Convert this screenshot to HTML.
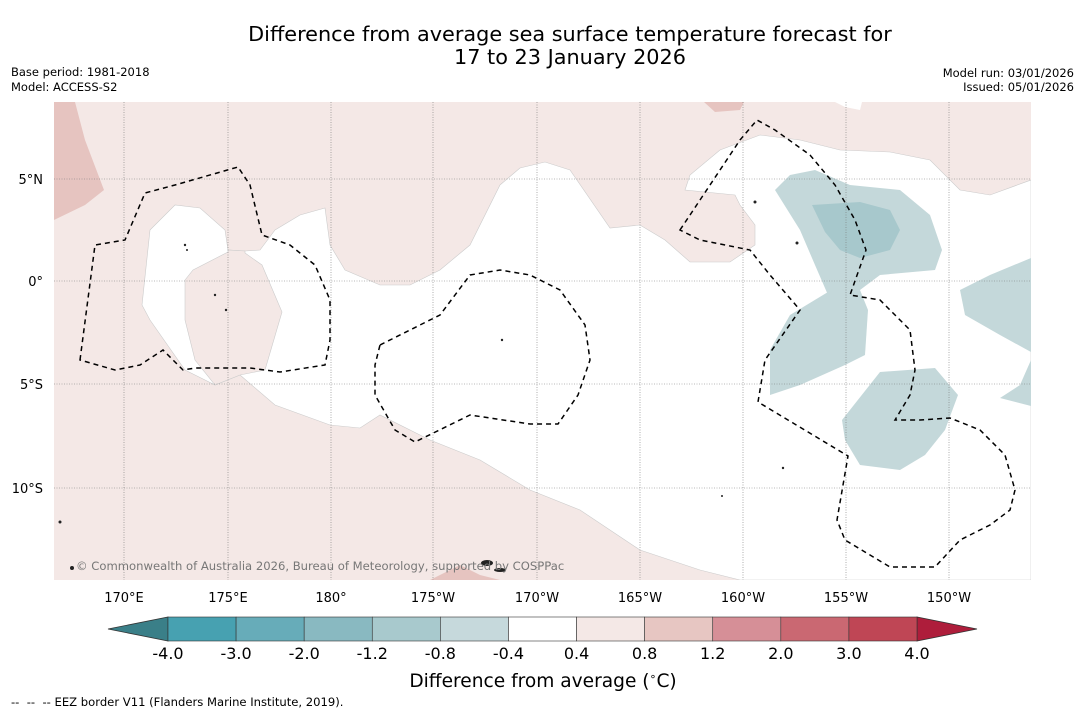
<!DOCTYPE html>
<html><head><meta charset="utf-8"><style>
body{margin:0;background:#fff;width:1085px;height:713px;overflow:hidden;font-family:"DejaVu Sans",sans-serif}
svg{position:absolute;left:0;top:0}
</style></head><body>
<svg width="1085" height="713" font-family="DejaVu Sans, sans-serif">
<text x="570" y="41" text-anchor="middle" font-size="20.8">Difference from average sea surface temperature forecast for</text>
<text x="570" y="64" text-anchor="middle" font-size="20.8">17 to 23 January 2026</text>
<text x="11" y="76" font-size="11.5">Base period: 1981-2018</text>
<text x="11" y="91" font-size="11.5">Model: ACCESS-S2</text>
<text x="1074" y="77" font-size="11.5" text-anchor="end">Model run: 03/01/2026</text>
<text x="1074" y="91" font-size="11.5" text-anchor="end">Issued: 05/01/2026</text>
<defs><clipPath id="mc"><rect x="54" y="102" width="977" height="478"/></clipPath></defs>
<g clip-path="url(#mc)">
<rect x="54" y="102" width="977" height="478" fill="#f4e8e6"/>
<path fill="#fff" stroke="#ccc" stroke-width="0.6" d="M150,230 L175,205 L200,208 L225,230 L228,250 L245,251 L260,250 L275,230 L300,215 L325,208 L330,245 L345,270 L380,285 L410,285 L440,270 L470,245 L500,185 L520,168 L545,162 L570,170 L610,228 L640,225 L665,240 L690,262 L730,262 L755,245 L755,225 L740,205 L735,195 L685,190 L690,175 L720,150 L760,135 L800,140 L840,150 L890,152 L930,160 L960,190 L990,195 L1031,180 L1031,580 L740,580 L700,570 L640,550 L580,510 L530,490 L480,460 L430,440 L380,415 L360,428 L330,425 L275,405 L240,375 L215,385 L185,370 L150,320 L142,305 Z"/>
<path fill="#f4e8e6" stroke="#ccc" stroke-width="0.6" d="M185,280 L193,270 L228,252 L228,250 L245,251 L245,253 L262,265 L282,312 L265,370 L240,375 L215,385 L195,360 L185,320 Z"/>
<g fill="#e6c4c0">
<path d="M54,102 L75,102 L85,140 L104,190 L85,205 L54,220 Z"/>
<path d="M704,102 L744,102 L740,110 L715,112 Z"/>
<path d="M430,580 L460,565 L480,575 L500,580 Z"/>
</g>
<path d="M835,102 L862,102 L860,110 L845,107 Z" fill="#fff"/>
<g fill="#c4d8da">
<path d="M790,175 L815,170 L850,185 L900,190 L930,215 L942,250 L935,270 L880,275 L860,290 L828,295 L815,265 L800,230 L775,190 Z"/>
<path d="M828,292 L860,290 L868,310 L865,355 L845,365 L800,385 L770,395 L770,350 L790,315 Z"/>
<path d="M842,420 L880,372 L935,368 L958,395 L945,430 L925,455 L900,470 L860,465 L845,440 Z"/>
<path d="M960,290 L990,275 L1031,258 L1031,352 L1000,335 L965,315 Z"/>
<path d="M1000,398 L1020,385 L1031,360 L1031,406 Z"/>
</g>
<path d="M812,205 L860,202 L890,210 L900,230 L890,250 L860,258 L840,250 L825,232 Z" fill="#a7c8cc"/>
<g stroke="#777" stroke-width="0.6" stroke-dasharray="1,1.5">
<line x1="124" y1="102" x2="124" y2="580"/><line x1="228" y1="102" x2="228" y2="580"/><line x1="331" y1="102" x2="331" y2="580"/><line x1="433" y1="102" x2="433" y2="580"/><line x1="537" y1="102" x2="537" y2="580"/><line x1="640" y1="102" x2="640" y2="580"/><line x1="743" y1="102" x2="743" y2="580"/><line x1="846" y1="102" x2="846" y2="580"/><line x1="949" y1="102" x2="949" y2="580"/>
<line x1="54" y1="179" x2="1031" y2="179"/><line x1="54" y1="281" x2="1031" y2="281"/><line x1="54" y1="384" x2="1031" y2="384"/><line x1="54" y1="488" x2="1031" y2="488"/>
</g>
<g fill="none" stroke="#000" stroke-width="1.5" stroke-dasharray="5,4">
<path d="M80,360 L95,245 L125,240 L145,193 L175,185 L238,167 L250,185 L262,235 L290,245 L315,265 L330,300 L330,340 L325,365 L280,372 L250,368 L195,368 L183,370 L163,350 L140,365 L115,370 Z"/>
<path d="M380,345 L440,315 L470,275 L500,270 L530,275 L560,290 L585,325 L590,360 L578,395 L558,424 L530,424 L470,415 L415,442 L395,430 L375,395 L375,365 Z"/>
<path d="M680,230 L700,200 L740,140 L757,120 L775,130 L810,155 L835,185 L855,220 L866,250 L850,295 L880,300 L910,330 L915,370 L910,395 L895,420 L920,420 L950,418 L980,430 L1005,455 L1015,490 L1010,510 L990,525 L960,540 L935,567 L890,567 L845,540 L837,520 L848,456 L758,402 L765,360 L800,310 L770,275 L750,250 L700,240 Z"/>
</g>
<g fill="#222">
<circle cx="185" cy="245" r="1.2"/><circle cx="187" cy="250" r="1"/><circle cx="215" cy="295" r="1.2"/><circle cx="226" cy="310" r="1.2"/><circle cx="502" cy="340" r="1.2"/><circle cx="755" cy="202" r="1.5"/><circle cx="797" cy="243" r="1.5"/><circle cx="60" cy="522" r="1.5"/><circle cx="72" cy="568" r="2"/><ellipse cx="487" cy="563" rx="6" ry="3"/><ellipse cx="500" cy="570" rx="6" ry="2"/><circle cx="722" cy="496" r="1"/><circle cx="783" cy="468" r="1.2"/>
</g>
<text x="76" y="570" font-size="11.6" fill="#777">© Commonwealth of Australia 2026, Bureau of Meteorology, supported by COSPPac</text>
</g>
<g font-size="13">
<text x="43" y="184" text-anchor="end">5°N</text><text x="43" y="286" text-anchor="end">0°</text><text x="43" y="389" text-anchor="end">5°S</text><text x="43" y="493" text-anchor="end">10°S</text>
<g text-anchor="middle"><text x="124" y="602">170°E</text><text x="228" y="602">175°E</text><text x="331" y="602">180°</text><text x="433" y="602">175°W</text><text x="537" y="602">170°W</text><text x="640" y="602">165°W</text><text x="743" y="602">160°W</text><text x="846" y="602">155°W</text><text x="949" y="602">150°W</text></g>
</g>
<g id="cbar"></g>
<text x="543" y="687" text-anchor="middle" font-size="18.6">Difference from average (<tspan font-size="11" dy="-7">∘</tspan><tspan dy="7">C)</tspan></text>
<text x="11" y="706" font-size="11.6" xml:space="preserve">--  --  -- EEZ border V11 (Flanders Marine Institute, 2019).</text>
</svg>
<script>
const cbColors=["#47a1b1","#67acb9","#89b9c1","#a8c9cd","#c6d9dc","#ffffff","#f4e8e6","#e7c6c2","#d68f97","#ca6872","#bf4655"];
const cbLabels=["-4.0","-3.0","-2.0","-1.2","-0.8","-0.4","0.4","0.8","1.2","2.0","3.0","4.0"];
const cbUnder="#3a7f88", cbOver="#ae1d3b";
const g=document.getElementById('cbar'),ns="http://www.w3.org/2000/svg";
const x0=168,x1=917,y0=617,y1=641,w=(x1-x0)/cbColors.length;
function mk(t,a){const e=document.createElementNS(ns,t);for(const k in a)e.setAttribute(k,a[k]);g.appendChild(e);return e;}
let t=mk('polygon',{points:`108,629 ${x0},${y0} ${x0},${y1}`,fill:cbUnder,stroke:'#333','stroke-width':0.8});


t=mk('polygon',{points:`977,629 ${x1},${y0} ${x1},${y1}`,fill:cbOver,stroke:'#333','stroke-width':0.8});


cbColors.forEach((c,i)=>{const r=mk('rect',{x:x0+i*w,y:y0,width:w,height:y1-y0,fill:c,stroke:'#333','stroke-width':0.6});

});
cbLabels.forEach((l,i)=>{const e=mk('text',{x:x0+i*w,y:659,'text-anchor':'middle','font-size':16});e.textContent=l;

});
</script>
</body></html>
